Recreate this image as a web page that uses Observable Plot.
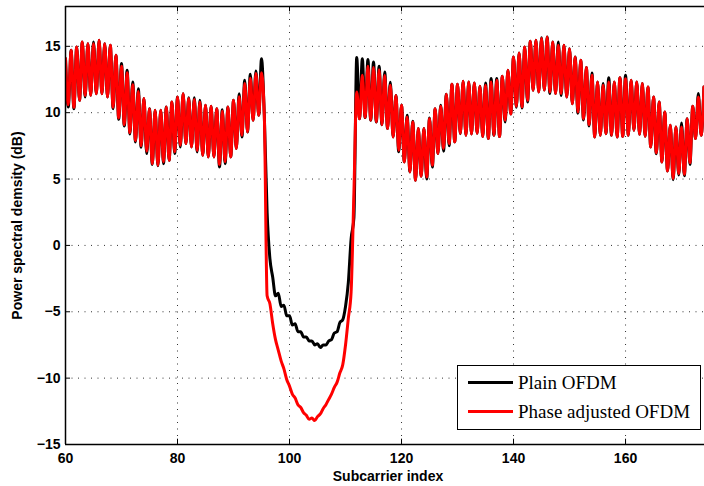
<!DOCTYPE html>
<html><head><meta charset="utf-8">
<script src="https://cdn.jsdelivr.net/npm/d3@7"></script>
<script src="https://cdn.jsdelivr.net/npm/@observablehq/plot@0.6"></script>
<style>
body{margin:0;background:#fff;}
#wrap{position:relative;width:704px;height:486px;overflow:hidden;}
#legend{position:absolute;left:457px;top:365px;}
</style></head>
<body><div id="wrap"></div>
<script>
const subcarrier = [
60,60.5,61,61.5,62,62.5,63,63.5,64,64.5,
65,65.5,66,66.5,67,67.5,68,68.5,69,69.5,
70,70.5,71,71.5,72,72.5,73,73.5,74,74.5,
75,75.5,76,76.5,77,77.5,78,78.5,79,79.5,
80,80.5,81,81.5,82,82.5,83,83.5,84,84.5,
85,85.5,86,86.5,87,87.5,88,88.5,89,89.5,
90,90.5,91,91.5,92,92.5,93,93.5,94,94.5,
95,95.5,96,96.5,97,97.5,98,98.5,99,99.5,
100,100.5,101,101.5,102,102.5,103,103.5,104,104.5,
105,105.5,106,106.5,107,107.5,108,108.5,109,109.5,
110,110.5,111,111.5,112,112.5,113,113.5,114,114.5,
115,115.5,116,116.5,117,117.5,118,118.5,119,119.5,
120,120.5,121,121.5,122,122.5,123,123.5,124,124.5,
125,125.5,126,126.5,127,127.5,128,128.5,129,129.5,
130,130.5,131,131.5,132,132.5,133,133.5,134,134.5,
135,135.5,136,136.5,137,137.5,138,138.5,139,139.5,
140,140.5,141,141.5,142,142.5,143,143.5,144,144.5,
145,145.5,146,146.5,147,147.5,148,148.5,149,149.5,
150,150.5,151,151.5,152,152.5,153,153.5,154,154.5,
155,155.5,156,156.5,157,157.5,158,158.5,159,159.5,
160,160.5,161,161.5,162,162.5,163,163.5,164,164.5,
165,165.5,166,166.5,167,167.5,168,168.5,169,169.5,
170,170.5,171,171.5,172,172.5,173,173.5,174];

const plainOFDM = [
14.07,10.43,14.7,10.3,14.95,10.93,15.33,11.18,15.2,11.31,
15.33,11.43,15.45,11.43,15.2,11.18,15.08,10.3,14.32,9.5,
13.7,9.0,13.2,8.4,12.31,7.8,11.8,7.4,11.06,6.92,
10.3,6.1,10.18,6.0,10.18,6.16,10.43,6.41,10.8,6.92,
11.18,7.42,11.43,7.67,11.13,7.42,11.13,7.04,10.93,6.79,
10.56,6.67,10.48,6.67,10.3,5.91,10.23,6.16,10.43,6.67,
10.93,7.3,11.43,8.17,12.44,8.55,12.9,9.43,13.14,9.8,
14.07,9.8,2.5,-1.0,-2.4,-3.8,-3.6,-4.6,-4.5,-5.3,
-5.3,-6.0,-5.9,-6.5,-6.5,-6.9,-6.9,-7.2,-7.2,-7.5,
-7.4,-7.7,-7.5,-7.5,-7.2,-7.1,-6.6,-6.5,-5.8,-5.6,
-4.6,-2.8,0.5,2.1,14.15,9.55,14.07,9.63,14.0,9.43,
13.82,9.3,13.5,9.1,13.07,8.8,12.3,8.17,11.3,7.05,
10.56,6.29,9.8,5.54,9.35,4.91,8.8,5.21,8.8,5.0,
9.6,5.9,10.3,6.92,10.56,7.1,11.39,7.5,12.14,7.8,
12.14,8.42,12.36,8.3,12.31,8.4,12.24,8.45,11.99,8.2,
12.24,8.05,12.57,8.3,12.57,8.2,12.74,9.3,13.19,9.9,
14.2,10.4,14.5,10.35,14.95,10.8,15.38,11.69,15.45,11.56,
15.65,11.7,15.7,11.45,15.33,11.44,15.33,11.3,15.08,11.18,
14.82,10.68,14.2,9.95,13.95,9.45,13.4,9.0,12.99,8.17,
12.31,8.3,12.19,8.42,12.64,8.3,12.31,8.17,12.64,8.22,
12.82,8.3,12.44,8.67,12.31,8.37,12.19,8.22,11.94,7.42,
11.18,6.9,10.81,6.29,10.06,5.61,9.05,4.95,8.93,5.3,
9.23,5.25,9.55,6.1,10.48,8.05,11.44,8.3,11.94];

const phaseAdjusted = [
14.07,10.6,14.7,10.4,14.95,10.93,15.33,11.3,15.2,11.31,
15.2,11.43,15.45,11.43,15.2,11.18,15.08,10.4,14.32,9.6,
13.5,9.1,13.0,8.5,12.1,7.9,11.6,7.5,11.06,7.1,
10.3,6.16,10.18,6.04,10.18,6.3,10.43,6.41,10.8,7.05,
11.18,7.55,11.43,7.67,11.06,7.42,11.0,7.15,10.8,6.79,
10.56,6.67,10.48,6.67,10.3,6.1,10.1,6.3,10.43,6.67,
10.93,7.3,11.2,8.3,12.2,8.55,12.6,9.43,12.95,9.8,
13.0,9.8,-3.8,-4.4,-5.9,-7.1,-7.9,-8.7,-9.3,-10.1,
-10.6,-11.2,-11.5,-12.0,-12.2,-12.6,-12.8,-13.1,-13.0,-13.2,
-12.9,-12.7,-12.3,-12.0,-11.6,-11.2,-10.7,-10.3,-9.6,-9.0,
-7.5,-5.5,-3.5,4.0,11.56,9.55,12.82,9.63,13.5,9.43,
13.4,9.3,13.24,9.1,12.8,8.8,12.06,8.17,11.3,7.17,
10.56,6.29,9.68,5.54,9.3,4.91,8.8,5.21,8.8,5.16,
9.55,6.04,10.3,6.92,10.48,7.3,11.39,7.67,12.14,7.8,
12.14,8.45,12.36,8.3,12.31,8.4,12.24,8.45,11.99,8.2,
12.06,8.05,12.31,8.3,12.44,8.2,12.74,9.43,13.19,9.9,
14.2,10.48,14.5,10.43,14.95,10.93,15.38,11.69,15.45,11.56,
15.58,11.7,15.7,11.56,15.33,11.44,15.08,11.44,15.08,11.18,
14.82,10.68,14.2,10.06,13.95,9.55,13.4,9.1,12.82,8.17,
12.31,8.3,12.06,8.42,12.31,8.3,12.31,8.17,12.64,8.22,
12.56,8.3,12.44,8.67,12.31,8.37,12.19,8.22,11.94,7.42,
11.18,6.97,10.81,6.29,10.06,5.61,9.05,5.04,8.93,5.41,
8.93,5.36,9.55,6.22,10.48,8.05,11.18,8.3,11.94];

const seriesNames = ["Plain OFDM", "Phase adjusted OFDM"];
const seriesColors = ["#000000", "#ff0000"];
const xTicks = [60, 80, 100, 120, 140, 160];
const yTicks = [-15, -10, -5, 0, 5, 10, 15];
const xLabel = "Subcarrier index";
const yLabel = "Power spectral demsity (dB)";

const fmt = d => d < 0 ? "\u2212" + Math.abs(d) : String(d);
const gridStyle = {stroke: "#333", strokeWidth: 1, strokeDasharray: "1,5.5"};

const chart = Plot.plot({
  width: 704, height: 486,
  marginLeft: 65, marginRight: 0, marginTop: 6, marginBottom: 42,
  style: {fontFamily: "'Liberation Sans', Arial, sans-serif", fontSize: "14px", fontWeight: "bold", background: "#fff", color: "#000", overflow: "visible"},
  x: {domain: [60, 174.1], ticks: xTicks, tickSize: 0, tickPadding: 9, tickFormat: fmt, label: null},
  y: {domain: [-15, 18], ticks: yTicks, tickSize: 0, tickPadding: 5, tickFormat: fmt, label: null},
  marks: [
    Plot.ruleX(xTicks, gridStyle),
    Plot.ruleY(yTicks, gridStyle),
    Plot.ruleY(yTicks, {x1: 60, x2: 60.9, stroke: "#000", strokeWidth: 1}),
    Plot.ruleX(xTicks, {y1: -15, y2: -14.6, stroke: "#000", strokeWidth: 1}),
    Plot.ruleX(xTicks, {y1: 18, y2: 17.6, stroke: "#000", strokeWidth: 1}),
    Plot.line(subcarrier, {x: subcarrier, y: plainOFDM, stroke: seriesColors[0], strokeWidth: 3, curve: "monotone-x", clip: true}),
    Plot.line(subcarrier, {x: subcarrier, y: phaseAdjusted, stroke: seriesColors[1], strokeWidth: 3, curve: "monotone-x", clip: true}),
    Plot.ruleY([18], {stroke: "#000", strokeWidth: 1.5}),
    Plot.ruleY([-15], {stroke: "#000", strokeWidth: 1.5}),
    Plot.ruleX([60], {stroke: "#000", strokeWidth: 1.5}),
    Plot.text([xLabel], {frameAnchor: "bottom", lineAnchor: "middle", textAnchor: "middle", dy: 32, dx: 3, text: d => d, fontSize: 14, fontWeight: "bold", fill: "#000"}),
    Plot.text([yLabel], {frameAnchor: "left", lineAnchor: "middle", textAnchor: "middle", dx: -47.5, rotate: -90, text: d => d, fontSize: 14, fontWeight: "bold", fill: "#000"})
  ]
});
const wrap = document.getElementById("wrap");
wrap.appendChild(chart);

// legend
const lg = d3.select(wrap).append("svg").attr("id", "legend").attr("width", 245).attr("height", 66);
lg.append("rect").attr("x", 0.5).attr("y", 0.5).attr("width", 243).attr("height", 64)
  .attr("fill", "#fff").attr("stroke", "#000").attr("stroke-width", 1);
const rowY = [17.5, 46.5];
seriesNames.forEach((name, i) => {
  lg.append("line").attr("x1", 11).attr("x2", 56).attr("y1", rowY[i]).attr("y2", rowY[i])
    .attr("stroke", seriesColors[i]).attr("stroke-width", 3);
  lg.append("text").attr("x", 61).attr("y", rowY[i] + 6)
    .attr("font-family", "'Liberation Serif', serif").attr("font-size", 19).attr("fill", "#000").text(name);
});
</script>
</body></html>
